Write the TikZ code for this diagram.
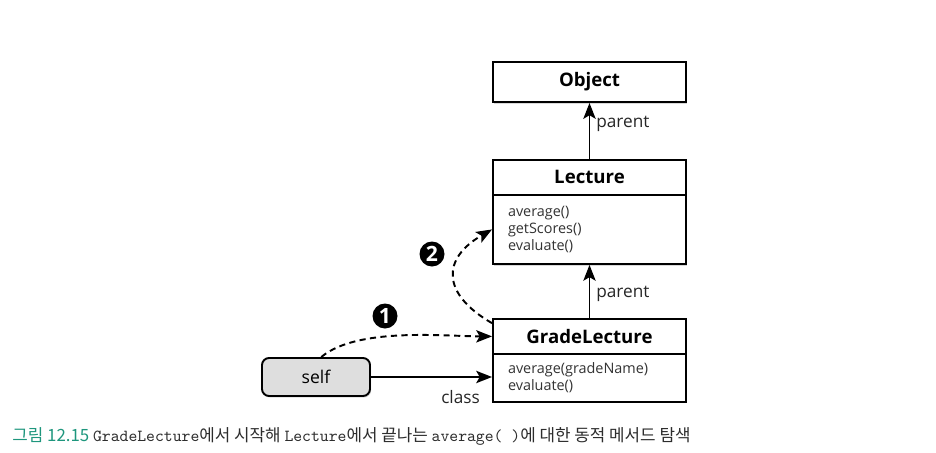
\documentclass[tikz,border=0pt]{standalone}
\usepackage{fontspec}
\setmainfont{Open Sans}
\newfontfamily\krfont{Noto Sans CJK KR}
\usetikzlibrary{arrows.meta,positioning,shadows}
\definecolor{captionteal}{RGB}{30,150,125}
\definecolor{selfgray}{RGB}{222,222,222}
\definecolor{captiongray}{RGB}{45,45,45}

\tikzset{
  classhead/.style={rectangle, draw, line width=1.1pt, fill=white, minimum width=3.86cm, minimum height=0.7cm,
    font=\fontsize{10.6}{13}\selectfont\bfseries, drop shadow={opacity=0.3, shadow xshift=0.6pt, shadow yshift=-0.9pt}},
  classbody/.style={rectangle, draw, line width=1.1pt, fill=white, text width=3.26cm, inner xsep=0.3cm,
    align=left, text=black!80, font=\fontsize{8.2}{9.9}\selectfont, drop shadow={opacity=0.3, shadow xshift=0.6pt, shadow yshift=-0.9pt}},
  parentarrow/.style={-{Stealth[length=9pt,width=7pt,inset=2pt]}, line width=1.1pt},
  lookup/.style={-{Stealth[length=9pt,width=7pt,inset=2pt]}, line width=1.1pt, dash pattern=on 3.5pt off 2.5pt},
  stepnum/.style={circle, fill=black, text=white, inner sep=0pt, minimum size=0.5cm, font=\fontsize{12}{12}\selectfont\bfseries},
  lbl/.style={font=\fontsize{9.8}{11}\selectfont, text=black!85}
}

\begin{document}
\begin{tikzpicture}
  \useasboundingbox (0,0) rectangle (18.72,-9.06);

  \node[classhead, minimum height=0.8cm] (object) at (11.79,-1.64) {Object};

  \node[classhead, below=1.12cm of object] (lecture) {Lecture};
  \node[classbody, minimum height=1.38cm, below=-1.1pt of lecture] (lecturebody) {average()\\getScores()\\evaluate()};

  \node[classhead, below=1.06cm of lecturebody] (grade) {GradeLecture};
  \node[classbody, minimum height=0.96cm, below=-1.1pt of grade] (gradebody) {average(gradeName)\\evaluate()};

  \node[rectangle, rounded corners=4pt, draw, line width=1.1pt, fill=selfgray, minimum width=2.16cm, minimum height=0.76cm,
    font=\fontsize{10}{12}\selectfont, drop shadow={opacity=0.3, shadow xshift=0.6pt, shadow yshift=-0.9pt}]
    (self) at (6.32,-7.54) {self};

  % parent links
  \draw[parentarrow] (lecture.north) -- node[lbl, right, pos=0.62] {parent} (object.south);
  \draw[parentarrow] (grade.north) -- node[lbl, right, pos=0.45] {parent} (lecturebody.south);

  % class link
  \draw[parentarrow] (self.east) -- node[lbl, below=4pt, pos=0.74] {class} (self.east -| gradebody.west);

  % method lookup
  \draw[lookup] ([xshift=3pt]self.north) to[out=40, in=180, looseness=0.7] (grade.west);
  \draw[lookup] ([yshift=-3pt]grade.north west) to[out=150, in=210, looseness=1.6] (lecturebody.west);

  \node[stepnum] (one) at (7.7,-6.32) {1};
  \node[stepnum] (two) at (8.64,-5.08) {2};

  % caption
  \node[anchor=west, inner sep=0pt, font=\krfont\fontsize{9.6}{11}\selectfont, text=captiongray] (caption) at (0.24,-8.72)
    {\textcolor{captionteal}{그림 12.15} {\ttfamily GradeLecture}에서 시작해 {\ttfamily Lecture}에서 끝나는 {\ttfamily average( )}에 대한 동적 메서드 탐색};
\end{tikzpicture}
\end{document}
